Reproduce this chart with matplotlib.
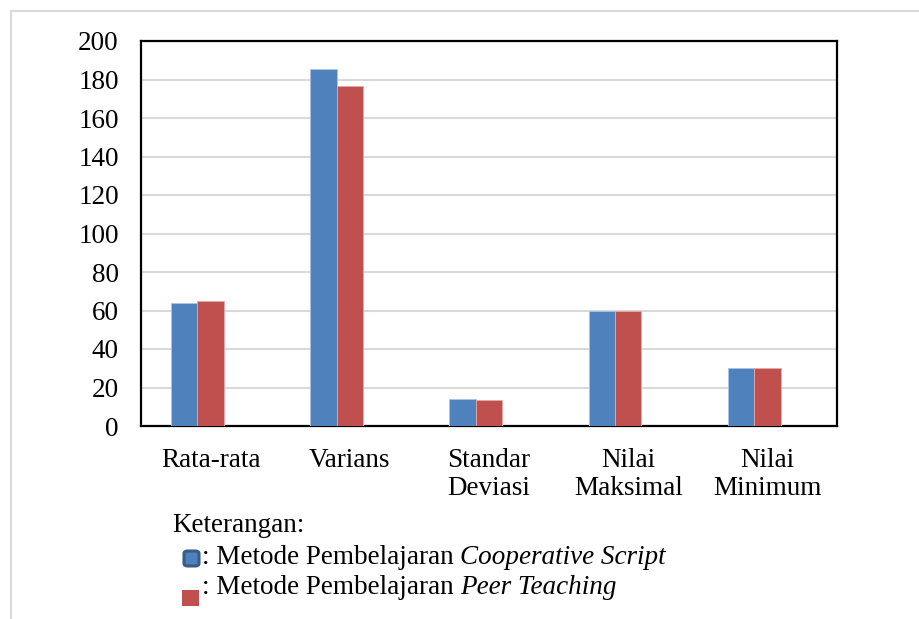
import numpy as np
import matplotlib.pyplot as plt
from matplotlib.patches import Rectangle, FancyBboxPatch

plt.rcParams['font.family'] = ['Liberation Serif', 'DejaVu Serif']

# data
categories = ["Rata-rata", "Varians", "Standar\nDeviasi", "Nilai\nMaksimal", "Nilai\nMinimum"]
cooperative = [64.0, 185.6, 13.9, 60.0, 30.0]
peer = [64.8, 176.5, 13.3, 60.0, 30.0]
yticks = [0, 20, 40, 60, 80, 100, 120, 140, 160, 180, 200]

blue = "#4F81BD"
red = "#C0504D"

fig = plt.figure(figsize=(9.19, 6.19), dpi=100)
ax = fig.add_axes([141/919, 1 - 426/619, 696/919, 385/619])

x = np.arange(len(categories)) + 0.5
w = 0.19
ax.bar(x - 0.285 + w/2, cooperative, w, color=blue, edgecolor="#a9c4e6", linewidth=0.6, zorder=3)
ax.bar(x - 0.285 + 1.5*w, peer, w, color=red, edgecolor="#e6a9a7", linewidth=0.6, zorder=3)

ax.set_xlim(0, len(categories))
ax.set_ylim(0, 200)
ax.set_yticks(yticks)
ax.set_xticks(x)
ax.set_xticklabels(categories, fontsize=19.5, linespacing=1.17)
ax.tick_params(axis='y', labelsize=19.5, length=0, pad=16)
ax.tick_params(axis='x', length=0, pad=16)
ax.yaxis.grid(True, color="#d9d9d9", linewidth=1.5, zorder=0)
for s in ax.spines.values():
    s.set_linewidth(1.6)
    s.set_color("black")

# outer light frame
fig.patches.append(Rectangle((11/919, -0.1), 1.2, 1 - 11/619 + 0.1, transform=fig.transFigure,
                             fill=False, edgecolor="#d9d9d9", linewidth=1.5))

# legend block
fig.text(172/919, 1 - 525/619, "Keterangan:", fontsize=19.5, va="center", ha="left")
fig.patches.append(FancyBboxPatch((184/919, 1 - 566/619), 15/919, 15/619,
                                  boxstyle="round,pad=0,rounding_size=0.004",
                                  transform=fig.transFigure, facecolor=blue,
                                  edgecolor="#385D8A", linewidth=2.2))
fig.patches.append(Rectangle((182/919, 1 - 606/619), 17/919, 16/619, transform=fig.transFigure,
                             facecolor=red, edgecolor="none"))

rows = [(557, "Cooperative Script"), (588, "Peer Teaching")]
renderer = fig.canvas.get_renderer()
for yy, it in rows:
    t = fig.text(202/919, 1 - yy/619, ": Metode Pembelajaran ", fontsize=19.5, va="center", ha="left")
    bb = t.get_window_extent(renderer)
    fig.text(bb.x1 / fig.bbox.width, 1 - yy/619, it, fontsize=19.5, style="italic",
             va="center", ha="left")

fig.savefig("out.png", dpi=100)
